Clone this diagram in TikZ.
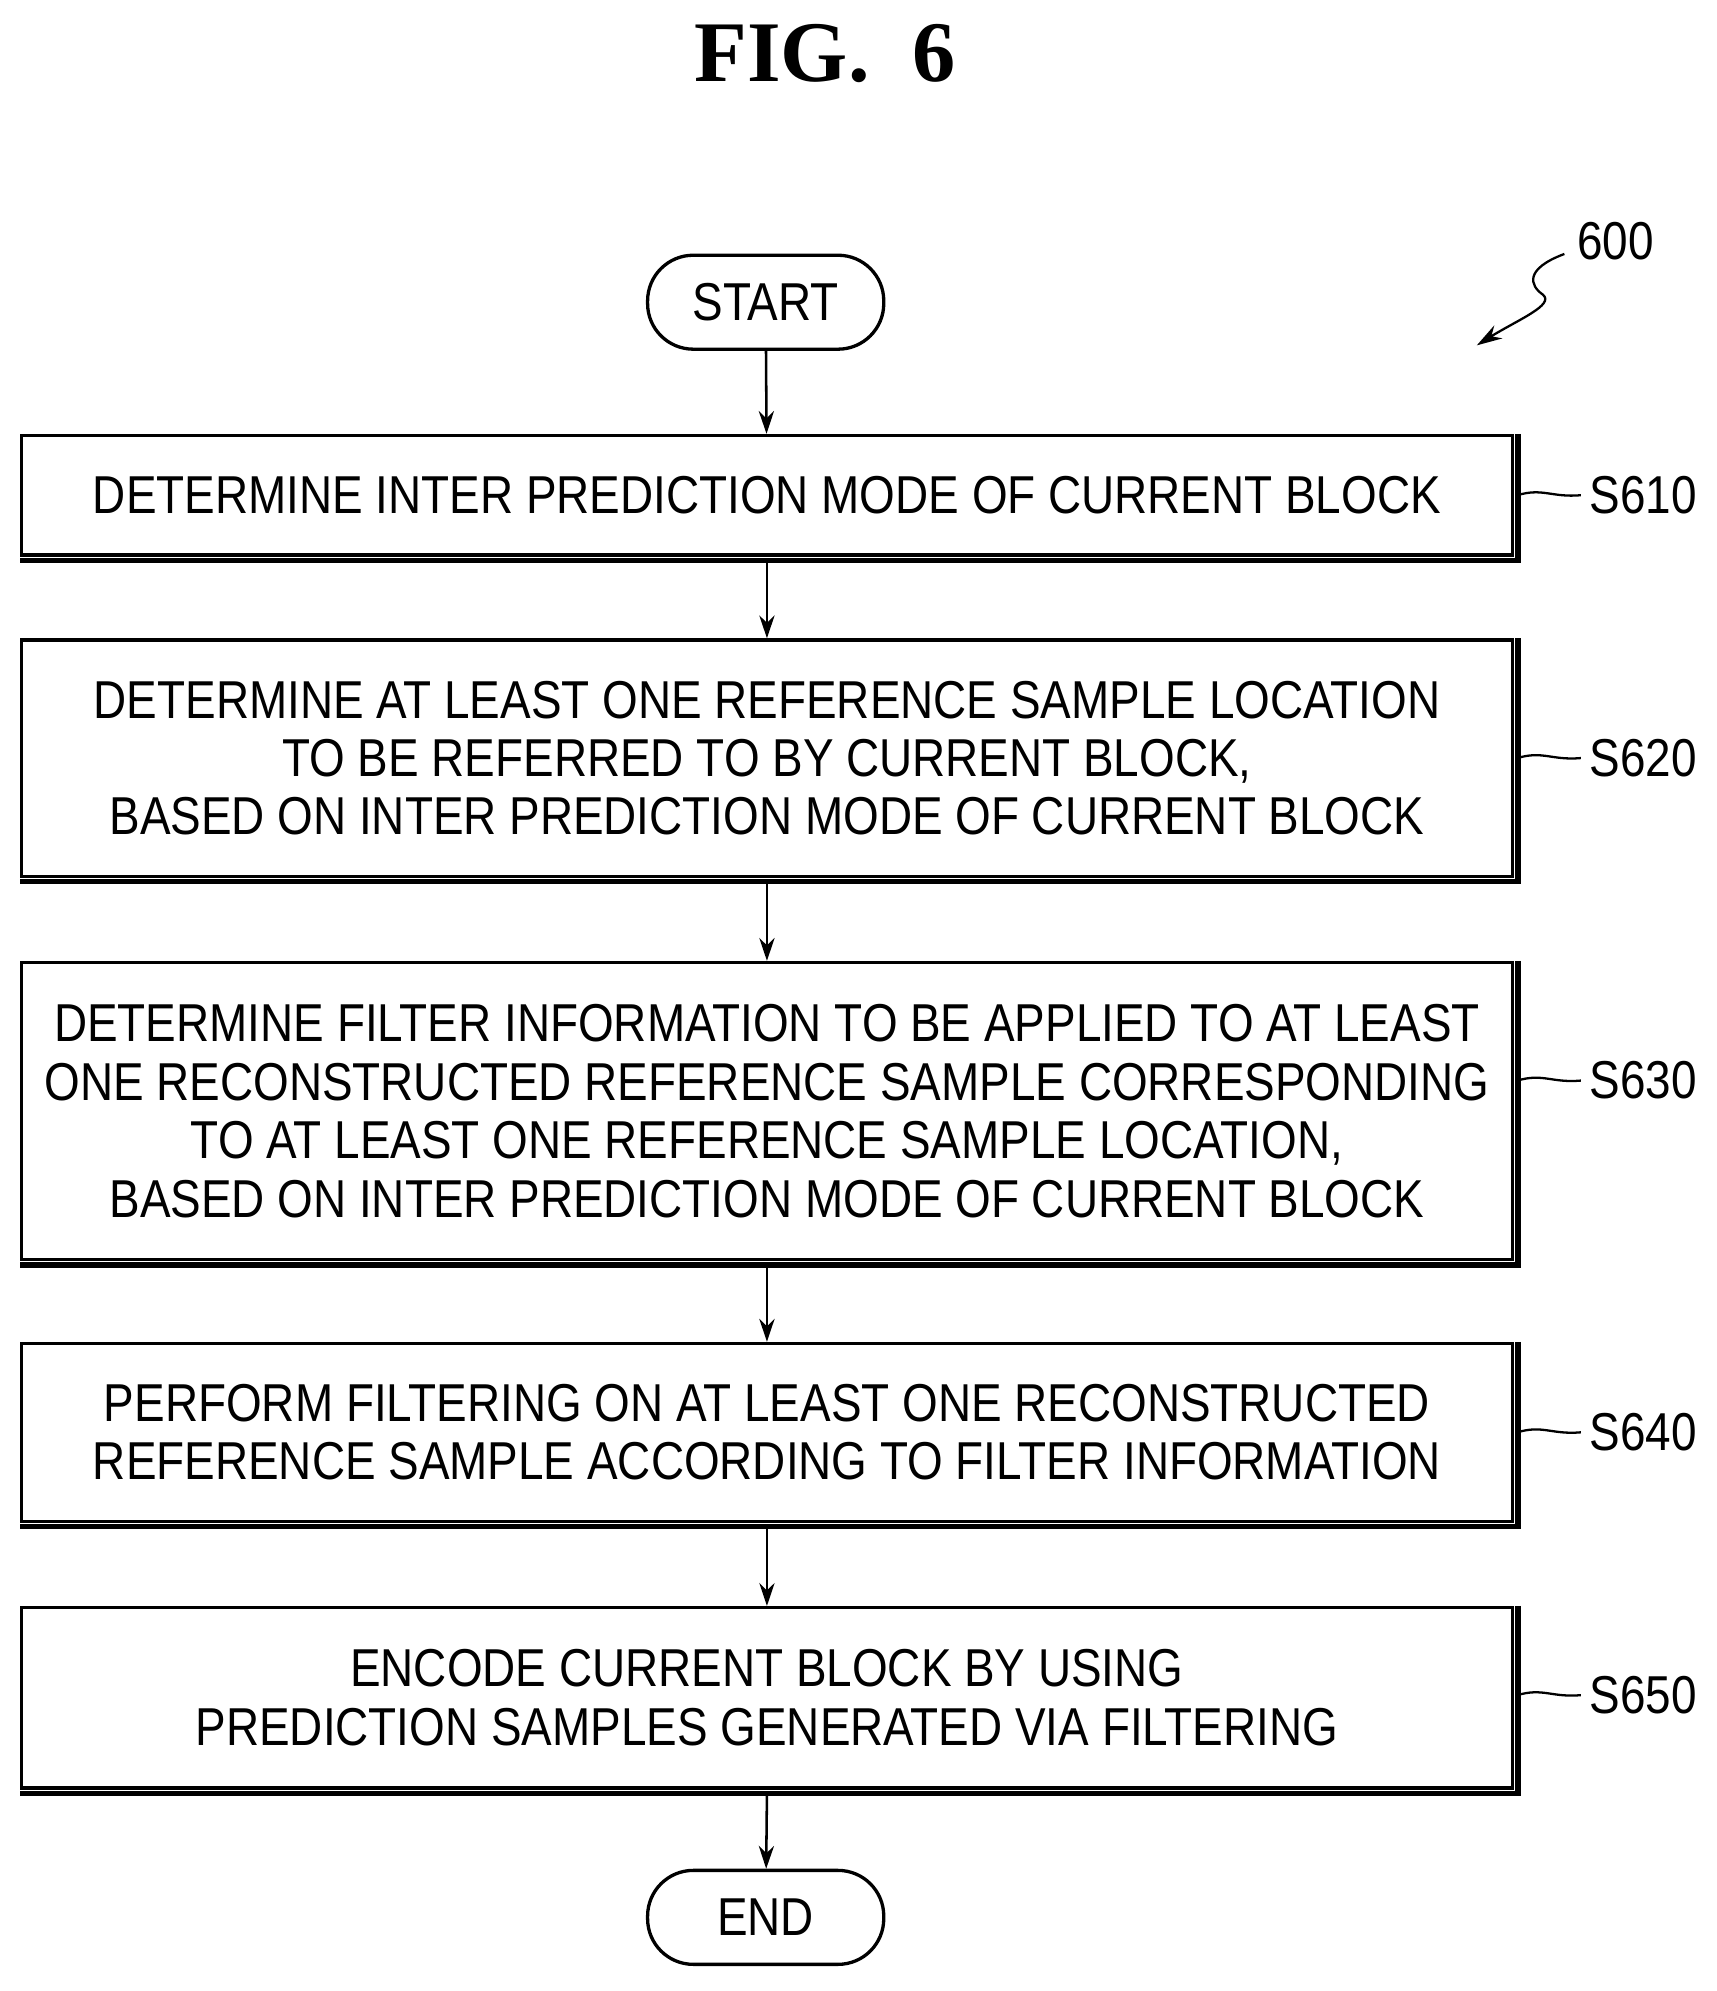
\documentclass[tikz,border=0pt]{standalone}
\usepackage{fontspec}
\setmainfont{Liberation Serif}
\newfontfamily\boxfont[FakeStretch=0.86]{Liberation Sans}
\usetikzlibrary{arrows.meta}
\begin{document}
\begin{tikzpicture}[x=0.5pt,y=-0.5pt,
  box/.style={draw,line width=1.3pt,minimum width=587pt,align=center,font=\boxfont\fontsize{21}{23}\selectfont,inner sep=0pt},
  term/.style={draw,line width=1.3pt,rounded corners=18pt,minimum width=93pt,minimum height=37pt,font=\boxfont\fontsize{21}{23}\selectfont},
  arr/.style={line width=1pt,-{Stealth[length=9pt,width=6pt]}},
  lab/.style={font=\boxfont\fontsize{21}{23}\selectfont,anchor=west}]
\useasboundingbox (0,0) rectangle (1352,1568);
\node[font=\bfseries\fontsize{34}{36}\selectfont] (t) at (650,42) {FIG.\ \ 6};
\node[term] (s) at (603,238) {START};
\node[box,minimum height=47pt] (b1) at (604,390) {DETERMINE INTER PREDICTION MODE OF CURRENT BLOCK};
\node[box,minimum height=93pt] (b2) at (604,597) {DETERMINE AT LEAST ONE REFERENCE SAMPLE LOCATION\\TO BE REFERRED TO BY CURRENT BLOCK,\\BASED ON INTER PREDICTION MODE OF CURRENT BLOCK};
\node[box,minimum height=117pt] (b3) at (604,875) {DETERMINE FILTER INFORMATION TO BE APPLIED TO AT LEAST\\ONE RECONSTRUCTED REFERENCE SAMPLE CORRESPONDING\\TO AT LEAST ONE REFERENCE SAMPLE LOCATION,\\BASED ON INTER PREDICTION MODE OF CURRENT BLOCK};
\node[box,minimum height=70pt] (b4) at (604,1128) {PERFORM FILTERING ON AT LEAST ONE RECONSTRUCTED\\REFERENCE SAMPLE ACCORDING TO FILTER INFORMATION};
\node[box,minimum height=71pt] (b5) at (604,1337) {ENCODE CURRENT BLOCK BY USING\\PREDICTION SAMPLES GENERATED VIA FILTERING};
\node[term] (e) at (603,1510) {END};
\foreach \b in {b1,b2,b3,b4,b5}{
  \draw[line width=2.2pt] ([xshift=1.5pt]\b.north east) -- ([xshift=1.5pt,yshift=-1.5pt]\b.south east) -- ([yshift=-1.5pt]\b.south west);}
\draw[arr] (s) -- (b1);
\draw[arr] ([yshift=-1.5pt]b1.south) -- (b2);
\draw[arr] ([yshift=-1.5pt]b2.south) -- (b3);
\draw[arr] ([yshift=-1.5pt]b3.south) -- (b4);
\draw[arr] ([yshift=-1.5pt]b4.south) -- (b5);
\draw[arr] ([yshift=-1.5pt]b5.south) -- (e);
\foreach \b/\l/\y in {b1/S610/390,b2/S620/597,b3/S630/851,b4/S640/1128,b5/S650/1335}{
  \node[lab] (l\l) at (1245,\y) {\l};
  \coordinate (c\l) at (1195,\y);
  \draw[line width=0.9pt] (c\l) .. controls (1215,\y-6) and (1222,\y+2) .. (l\l.west);}
\node[lab] (n600) at (1235,190) {600};
\coordinate (a600) at (1163,272);
\draw[line width=0.9pt,-{Stealth[length=10pt,width=6pt]}] (1232,200) .. controls (1200,212) and (1205,225) .. (1215,232) .. controls (1225,240) and (1195,252) .. (a600);
\end{tikzpicture}
\end{document}
